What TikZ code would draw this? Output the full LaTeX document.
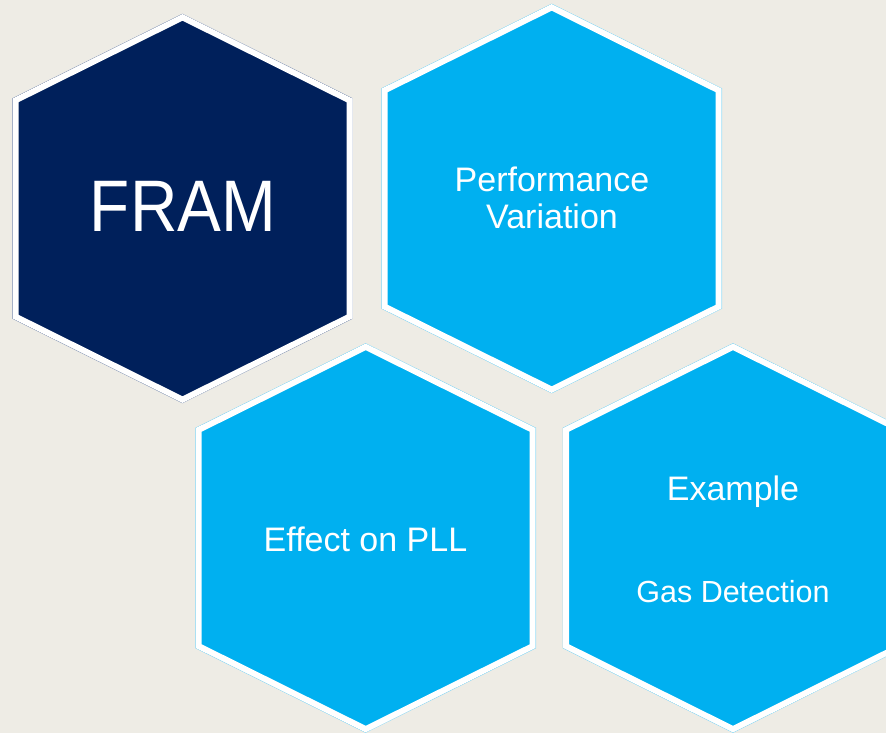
\documentclass[tikz,border=0pt]{standalone}
\usepackage{fontspec}
\setmainfont{Liberation Sans}
\definecolor{bgc}{HTML}{EEECE5}
\definecolor{navy}{HTML}{00205B}
\definecolor{sky}{HTML}{00B0F0}
\definecolor{navyedge}{HTML}{B4BED2}
\definecolor{skyedge}{HTML}{A8DDF0}
\newcommand{\hexpath}[2]{(#1,#2) -- ++(170,84.5) -- ++(0,220) -- ++(-170,84.5) -- ++(-170,-84.5) -- ++(0,-220) -- cycle}
\newcommand{\hexcell}[4]{%
  \draw[#4, line width=0.8, line join=miter] \hexpath{#1}{#2};
  \begin{scope}
    \clip \hexpath{#1}{#2};
    \draw[fill=#3, draw=white, line width=12, line join=miter] \hexpath{#1}{#2};
  \end{scope}}
\tikzset{lbl/.style={text=white, inner sep=0pt, anchor=base, font=\fontsize{34}{40}\selectfont}}
\begin{document}
\begin{tikzpicture}[x=1pt,y=-1pt]
\useasboundingbox (0,0) rectangle (886,733);
\clip (0,0) rectangle (886,733);
\fill[bgc] (0,0) rectangle (886,733);
\hexcell{182.5}{14}{navy}{navyedge}
\hexcell{551.7}{4}{sky}{skyedge}
\hexcell{365.7}{343.5}{sky}{skyedge}
\hexcell{733}{343.5}{sky}{skyedge}
\node[lbl, font=\fontsize{73}{80}\selectfont] (fram) at (183,231) {\scalebox{0.9}[1]{FRAM}};
\node[lbl] (perf1) at (552,191) {Performance};
\node[lbl] (perf2) at (552,228) {Variation};
\node[lbl] (pll) at (365.5,551) {Effect on PLL};
\node[lbl] (ex) at (733,500) {Example};
\node[lbl, font=\fontsize{30.5}{36}\selectfont] (gas) at (733,602) {Gas Detection};
\end{tikzpicture}
\end{document}
